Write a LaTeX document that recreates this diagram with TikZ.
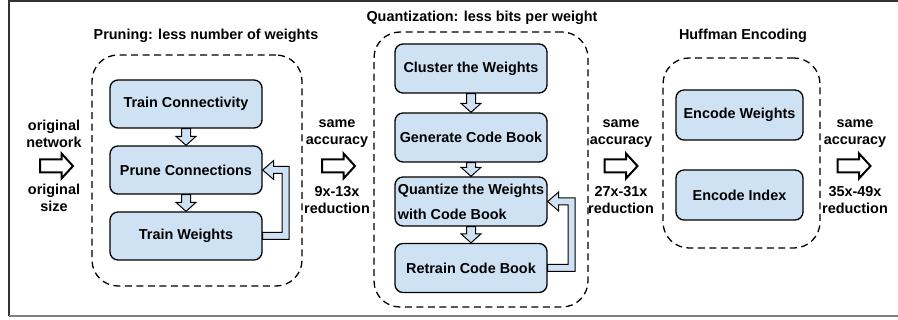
\documentclass[tikz,border=0pt]{standalone}
\usepackage{fontspec}
\setmainfont{Liberation Sans}
\usetikzlibrary{calc}
\definecolor{boxblue}{HTML}{CFE2F3}
\definecolor{framegray}{HTML}{333333}
\definecolor{bottomgray}{HTML}{7F7F7F}
\tikzset{
  txt/.style={font=\fontsize{14.4}{17}\selectfont\bfseries, align=center, inner sep=0pt},
  box/.style={draw=black, fill=boxblue, line width=1.3pt, rounded corners=8pt,
    font=\fontsize{14.4}{17}\selectfont\bfseries, align=center, inner sep=0pt},
  pbox/.style={box, minimum width=152pt, minimum height=48pt},
  qbox/.style={box, minimum width=152pt, minimum height=49pt},
  hbox/.style={box, minimum width=127pt, minimum height=50pt},
  frame/.style={draw=black, line width=1.3pt, dash pattern=on 7pt off 4.5pt, rounded corners=26pt, inner sep=0pt},
  flow/.style={draw=black, fill=boxblue, line width=1pt, line join=miter},
  hollow/.style={draw=black, fill=white, line width=2pt, line join=miter},
  bigarrow/.pic={\draw[hollow] (-16.5,-6.5) -- (5,-6.5) -- (5,-12.5) -- (16.5,0) -- (5,12.5) -- (5,6.5) -- (-16.5,6.5) -- cycle;}
}
\newcommand\flowdown[2]{%
  \filldraw[flow] let \p1=(#1.south), \p2=(#2.north) in
    (\x1-4.5pt,\y1) -- (\x1-4.5pt,\y2+9pt) -- (\x1-10pt,\y2+9pt) -- (\x1,\y2)
    -- (\x1+10pt,\y2+9pt) -- (\x1+4.5pt,\y2+9pt) -- (\x1+4.5pt,\y1) -- cycle;}
\newcommand\feedback[3]{%
  \filldraw[flow] let \p1=(#1.east), \p2=(#2.east) in
    (\x1,\y1-3.5pt) -- (\x1+#3+3.5pt,\y1-3.5pt) -- (\x1+#3+3.5pt,\y2+3.5pt)
    -- (\x2+11pt,\y2+3.5pt) -- (\x2+11pt,\y2+9.5pt) -- (\x2,\y2)
    -- (\x2+11pt,\y2-9.5pt) -- (\x2+11pt,\y2-3.5pt) -- (\x1+#3-3.5pt,\y2-3.5pt)
    -- (\x1+#3-3.5pt,\y1+3.5pt) -- (\x1,\y1+3.5pt) -- cycle;}
\begin{document}
\begin{tikzpicture}[x=1pt, y=-1pt]
\useasboundingbox (0,0) rectangle (898,320);
% outer border
\draw[framegray, line width=1.5pt] (9,316) -- (9,1) -- (898,1);
\draw[bottomgray, line width=2pt] (9,316) -- (898,316);

% frames
\node[frame, minimum width=210pt, minimum height=231pt] (pf) at (197,170.5) {};
\node[frame, minimum width=214pt, minimum height=275pt] (qf) at (481,169.5) {};
\node[frame, minimum width=157pt, minimum height=190pt] (hf) at (741.5,153) {};

% titles
\node[txt] (pt) at (206,36) {Pruning: less number of weights};
\node[txt] (qt) at (482,18) {Quantization: less bits per weight};
\node[txt] (ht) at (743,36) {Huffman Encoding};

% pruning boxes
\node[pbox] (tc) at (186,104) {Train Connectivity};
\node[pbox] (pc) at (186,170) {Prune Connections};
\node[pbox] (tw) at (186,236) {Train Weights};
\flowdown{tc}{pc}
\flowdown{pc}{tw}
\feedback{tw}{pc}{23pt}

% quantization boxes
\node[qbox] (cw) at (471,68.5) {Cluster the Weights};
\node[qbox] (gc) at (471,137.5) {Generate Code Book};
\node[qbox, font=\fontsize{14.4}{25}\selectfont\bfseries, align=left] (qw) at (471,201.5) {Quantize the Weights\\with Code Book};
\node[qbox] (rc) at (471,268) {Retrain Code Book};
\flowdown{cw}{gc}
\flowdown{gc}{qw}
\flowdown{qw}{rc}
\feedback{rc}{qw}{24pt}

% huffman boxes
\node[hbox] (ew) at (739.5,115) {Encode Weights};
\node[hbox] (ei) at (739.5,195) {Encode Index};

% side labels and arrows
\node[txt] (l1a) at (54,134) {original\\network};
\node[txt] (l1b) at (54,198) {original\\size};
\pic at (56.5,166) {bigarrow};

\node[txt] (l2a) at (337,134) {same\\accuracy};
\node[txt] (l2b) at (337,200) {9x-13x\\reduction};
\pic at (338.5,166) {bigarrow};

\node[txt] (l3a) at (621,134) {same\\accuracy};
\node[txt] (l3b) at (621,200) {27x-31x\\reduction};
\pic at (621,166) {bigarrow};

\node[txt] (l4a) at (855,134) {same\\accuracy};
\node[txt] (l4b) at (855,200) {35x-49x\\reduction};
\pic at (854,166) {bigarrow};
\end{tikzpicture}
\end{document}
